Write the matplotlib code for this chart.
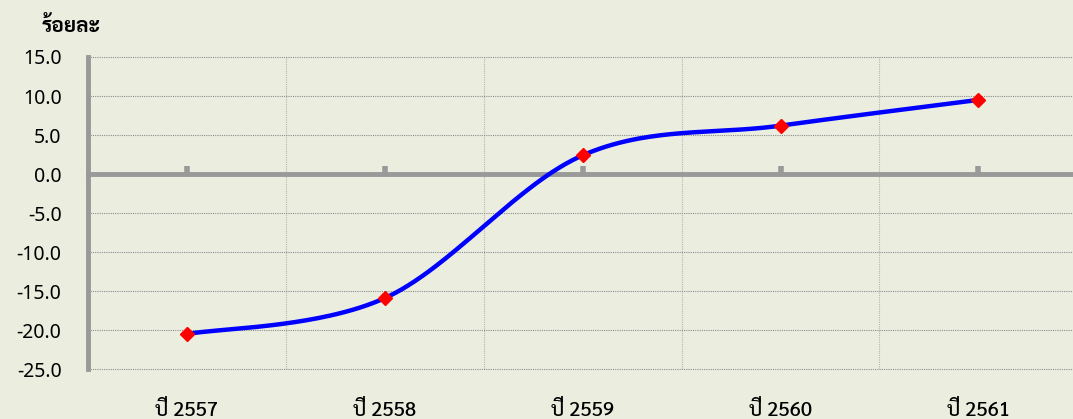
import numpy as np
import matplotlib
matplotlib.use("Agg")
import matplotlib.pyplot as plt
from matplotlib import font_manager
from matplotlib.ft2font import FT2Font

years = ["ปี 2557", "ปี 2558", "ปี 2559", "ปี 2560", "ปี 2561"]
values = [-20.5, -15.9, 2.4, 6.2, 9.5]
y_ticks = [-25, -20, -15, -10, -5, 0, 5, 10, 15]
y_label = "ร้อยละ"

# pick a font with Thai glyphs
thai_fonts = []
for f in font_manager.fontManager.ttflist:
    try:
        if 0x0E1B in FT2Font(f.fname).get_charmap():
            thai_fonts.append(f.name)
    except Exception:
        pass
thai = None
for cand in ["Sarabun", "Noto Sans Thai Looped", "Noto Sans Thai", "IBM Plex Sans Thai", "Bai Jamjuree"]:
    if cand in thai_fonts:
        thai = cand
        break
if thai is None and thai_fonts:
    thai = thai_fonts[0]
thai_fam = ([thai] if thai else []) + ["Noto Sans", "DejaVu Sans"]
plt.rcParams["font.family"] = thai_fam

bg = "#ebeedf"
fig = plt.figure(figsize=(10.73, 4.19), dpi=100, facecolor=bg)
ax = fig.add_axes([0.082, 0.119, 0.922, 0.745], facecolor=bg)

# Excel-like smoothed line (Catmull-Rom as Bezier)
x = np.arange(len(values), dtype=float)
y = np.array(values)
px = np.concatenate([[x[0]], x, [x[-1]]])
py = np.concatenate([[y[0]], y, [y[-1]]])
t = np.linspace(0, 1, 60)
sx, sy = [], []
for i in range(1, len(px) - 2):
    p0, p1, p2, p3 = px[i-1], px[i], px[i+1], px[i+2]
    q0, q1, q2, q3 = py[i-1], py[i], py[i+1], py[i+2]
    c1x, c1y = p1 + (p2 - p0) / 6, q1 + (q2 - q0) / 6
    c2x, c2y = p2 - (p3 - p1) / 6, q2 - (q3 - q1) / 6
    b = [(1-t)**3, 3*(1-t)**2*t, 3*(1-t)*t**2, t**3]
    sx.extend(b[0]*p1 + b[1]*c1x + b[2]*c2x + b[3]*p2)
    sy.extend(b[0]*q1 + b[1]*c1y + b[2]*c2y + b[3]*q2)

ax.plot(sx, sy, color="#0000ff", lw=3.2, zorder=3, solid_capstyle="round")
ax.plot(x, y, ls="none", marker="D", ms=7, color="#ff0000", zorder=4)

ax.set_xlim(-0.5, len(years) - 0.5)
ax.set_ylim(-25, 15)
ax.set_yticks(y_ticks)
ax.set_yticklabels([f"{v:.1f}" for v in y_ticks])
ax.set_xticks(x)
ax.set_xticklabels(years)
ax.set_xticks(x[:-1] + 0.5, minor=True)

ax.grid(axis="y", which="major", color="#8c8c8c", ls=(0, (1, 1)), lw=0.8)
ax.grid(axis="x", which="minor", color="#b5b5b5", ls=(0, (1, 1)), lw=0.8)
for gl in ax.get_ygridlines():
    gl.set_clip_on(False)

# category axis crosses at zero (top spine moved there), tick marks pointing up
ax.spines["bottom"].set_visible(False)
ax.spines["right"].set_visible(False)
ax.spines["top"].set_position(("data", 0))
ax.spines["top"].set_color("#999999")
ax.spines["top"].set_linewidth(3.5)
ax.spines["left"].set_color("#999999")
ax.spines["left"].set_linewidth(3.5)
ax.tick_params(axis="x", which="major", top=True, bottom=False, labeltop=False,
               labelbottom=True, direction="out", length=6, width=4,
               color="#999999", pad=16, labelsize=14.5)
ax.tick_params(axis="x", which="minor", length=0, top=False, bottom=False)
ax.tick_params(axis="y", length=0, pad=19, labelsize=14)

for lab in ax.get_xticklabels():
    lab.set_fontweight("medium")
for lab in ax.get_yticklabels():
    lab.set_family(["Noto Sans", "DejaVu Sans"])
    lab.set_fontweight("medium")

fig.text(0.039, 0.937, y_label, fontsize=15, fontweight="bold", va="center")

fig.savefig("out.png", dpi=100, facecolor=bg)
